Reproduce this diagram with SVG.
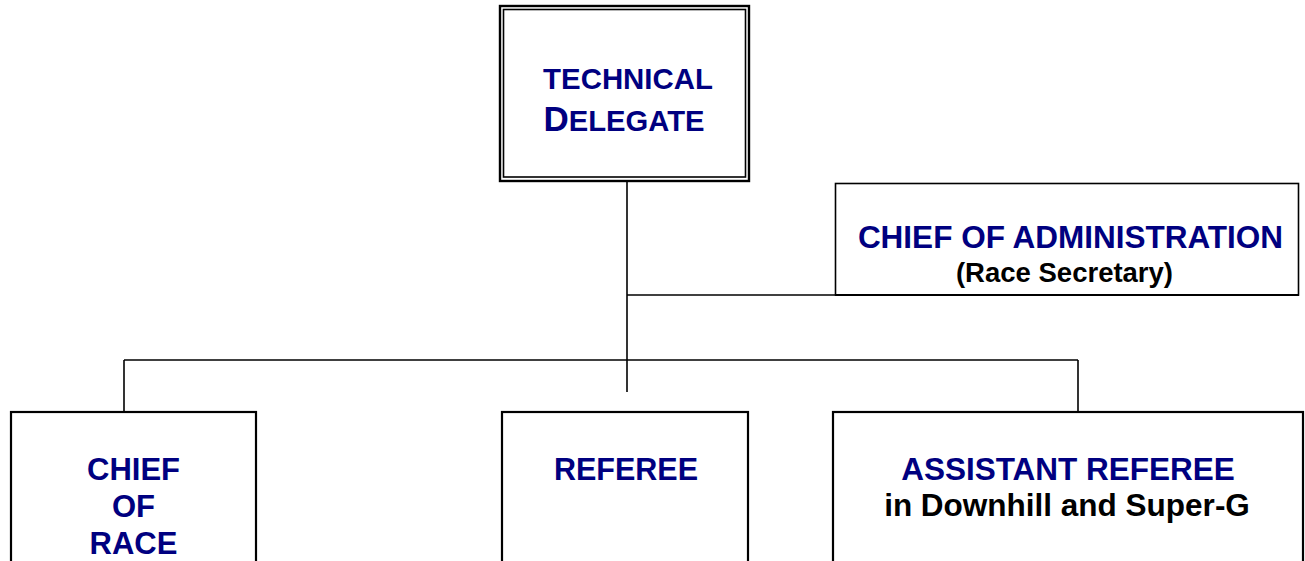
<svg xmlns="http://www.w3.org/2000/svg" width="1305" height="561" viewBox="0 0 1305 561">
  <style>
    .box { fill: #ffffff; stroke: #000000; stroke-width: 2.2; }
    .thin { fill: none; stroke: #000000; stroke-width: 1.6; }
    .conn { fill: none; stroke: #000000; stroke-width: 1.6; }
    .t { font-family: "Liberation Sans", Arial, Helvetica, sans-serif; font-weight: bold; text-anchor: middle; }
    .navy { fill: #000080; }
    .blk { fill: #000000; }
  </style>
  <rect width="1305" height="561" fill="#ffffff"/>

  <g id="connectors">
    <line class="conn" x1="627" y1="181" x2="627" y2="392"/>
    <line class="conn" x1="627" y1="295" x2="836" y2="295"/>
    <line class="conn" x1="124" y1="360" x2="1078" y2="360"/>
    <line class="conn" x1="124" y1="360" x2="124" y2="412"/>
    <line class="conn" x1="1078" y1="360" x2="1078" y2="412"/>
  </g>

  <g id="technical-delegate">
    <rect x="500" y="6" width="249" height="175" fill="#ffffff" stroke="#000" stroke-width="2.4"/>
    <rect x="503.5" y="9.5" width="242" height="167.5" class="thin" stroke-width="2"/>
    <text class="t navy" x="628" y="89" font-size="29.4">TECHNICAL</text>
    <text class="t navy" x="624" y="131" font-size="29.2"><tspan font-size="35">D</tspan>ELEGATE</text>
  </g>

  <g id="chief-of-administration">
    <rect x="835.5" y="183.5" width="463" height="111.5" fill="#ffffff" stroke="#000" stroke-width="1.6"/>
    <line x1="835" y1="295" x2="1299" y2="295" stroke="#000" stroke-width="2.2"/>
    <text class="t navy" x="1070.5" y="248" font-size="31.5">CHIEF OF ADMINISTRATION</text>
    <text class="t blk" x="1064.5" y="282" font-size="27.5">(Race Secretary)</text>
  </g>

  <g id="chief-of-race">
    <rect x="11" y="412" width="245" height="160" class="box"/>
    <text class="t navy" x="133.5" y="480" font-size="31">CHIEF</text>
    <text class="t navy" x="133.5" y="517" font-size="31">OF</text>
    <text class="t navy" x="133.5" y="554" font-size="31">RACE</text>
  </g>

  <g id="referee">
    <rect x="502" y="412" width="246" height="160" class="box"/>
    <text class="t navy" x="626" y="480" font-size="30.5">REFEREE</text>
  </g>

  <g id="assistant-referee">
    <rect x="833" y="412" width="470" height="160" class="box"/>
    <text class="t navy" x="1068" y="480" font-size="31.5">ASSISTANT REFEREE</text>
    <text class="t blk" x="1067" y="516" font-size="31.5">in Downhill and Super-G</text>
  </g>
</svg>
